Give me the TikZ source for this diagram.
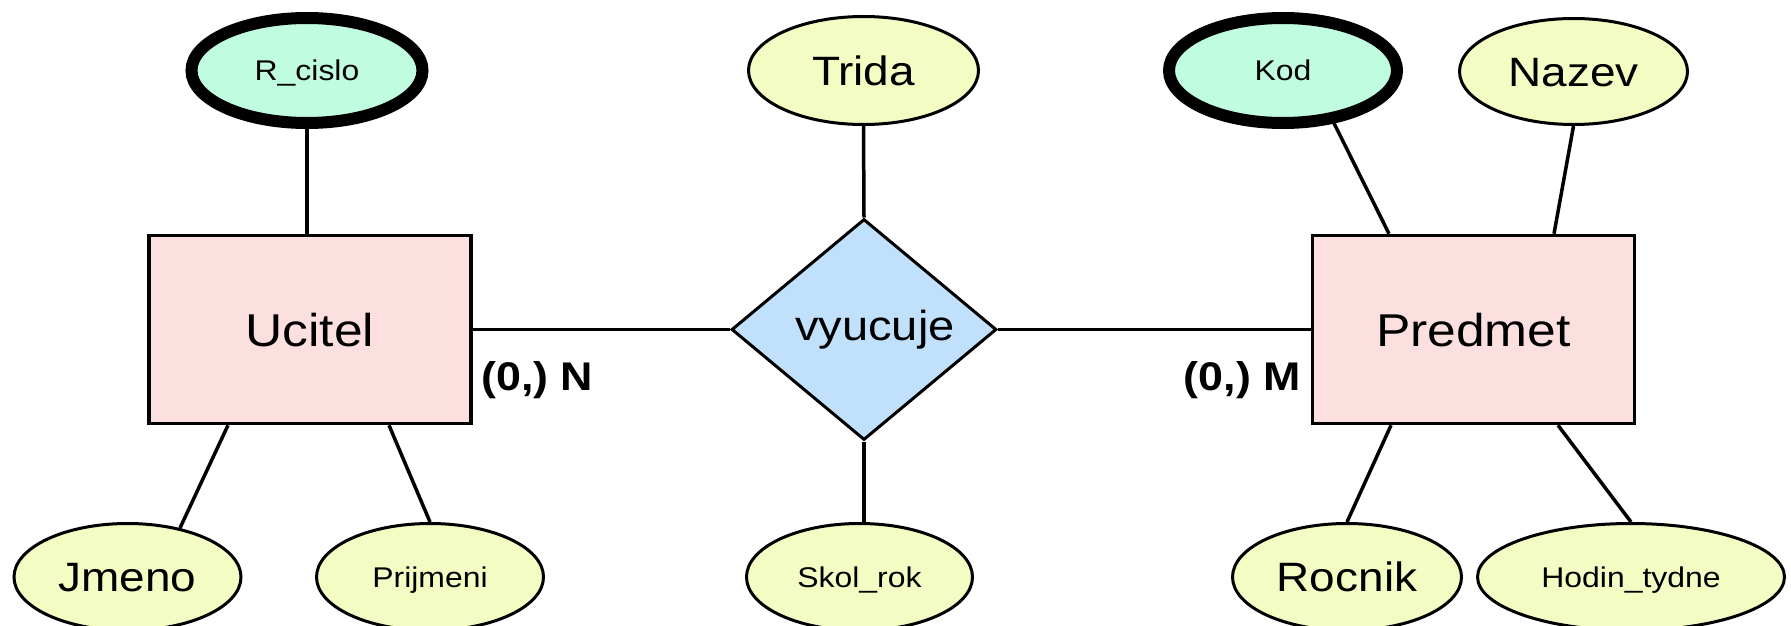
\documentclass[tikz,border=0pt]{standalone}
\usepackage{fontspec}
\setmainfont{Liberation Sans}[FakeStretch=1.12]
\usetikzlibrary{shapes.geometric}

\definecolor{entfill}{RGB}{252,224,224}
\definecolor{attrfill}{RGB}{243,252,194}
\definecolor{keyfill}{RGB}{192,252,224}
\definecolor{relfill}{RGB}{192,224,252}

\tikzset{
  entity/.style={draw, line width=3.5pt, fill=entfill, rectangle,
    minimum width=322pt, minimum height=188pt, inner sep=0pt,
    font=\fontsize{46}{50}\selectfont, text height=33pt, text depth=0pt},
  attr/.style={draw, line width=3pt, fill=attrfill, ellipse,
    inner sep=0pt, text depth=0pt},
  keyattr/.style={attr, line width=12pt, fill=keyfill},
  bigtext/.style={font=\fontsize{41}{45}\selectfont, text height=29.4pt},
  smalltext/.style={font=\fontsize{28.5}{32}\selectfont, text height=20.4pt},
  relation/.style={draw, diamond, line width=3pt, fill=relfill,
    minimum width=265pt, minimum height=221pt, inner sep=0pt,
    font=\fontsize{42}{46}\selectfont, text height=21.8pt, text depth=0pt},
  link/.style={line width=3.5pt},
  card/.style={inner sep=0pt, font=\bfseries\fontsize{40}{44}\selectfont,
    text height=28.6pt, text depth=0pt}
}

\begin{document}
\begin{tikzpicture}[x=1pt,y=-1pt]
  \useasboundingbox (0,0) rectangle (1791,626);

  % entities and the relationship
  \node[entity] (ucitel) at (310,329.5) {Ucitel};
  \node[entity] (predmet) at (1473.5,329.5) {Predmet};
  \node[relation] (vyucuje) at (864,329.5) {\hspace*{22pt}vyucuje};

  % key attributes
  \node[keyattr, smalltext, minimum width=231pt, minimum height=105pt]
    (rcislo) at (307,70.5) {R\_cislo};
  \node[keyattr, smalltext, minimum width=228pt, minimum height=105pt]
    (kod) at (1283,70.5) {Kod};

  % ordinary attributes
  \node[attr, bigtext, minimum width=230pt, minimum height=108pt]
    (trida) at (863.5,70.5) {Trida};
  \node[attr, bigtext, minimum width=228pt, minimum height=106pt]
    (nazev) at (1573.5,71.5) {Nazev};
  \node[attr, bigtext, minimum width=227pt, minimum height=107pt]
    (jmeno) at (127.5,577) {Jmeno};
  \node[attr, smalltext, minimum width=227pt, minimum height=107pt]
    (prijmeni) at (430,577) {Prijmeni};
  \node[attr, smalltext, minimum width=226pt, minimum height=107pt]
    (skolrok) at (859.5,577) {Skol\_rok};
  \node[attr, bigtext, minimum width=229pt, minimum height=107pt]
    (rocnik) at (1347,577) {Rocnik};
  \node[attr, smalltext, minimum width=307pt, minimum height=107pt]
    (hodin) at (1631,577) {Hodin\_tydne};

  % cardinalities
  \node[card, anchor=west] (cardn) at (481,376) {(0,) N};
  \node[card, anchor=east] (cardm) at (1301,376) {(0,) M};

  % relationship links
  \draw[link] (ucitel.east) -- (vyucuje.west);
  \draw[link] (vyucuje.east) -- (predmet.west);
  \draw[link] (trida.south) -- (vyucuje.north);
  \draw[link] (vyucuje.south) -- (vyucuje.south |- skolrok.north);

  % attribute links of Ucitel
  \draw[link] (rcislo.south) -- (rcislo.south |- ucitel.north);
  \draw[link] (jmeno.43) -- ([xshift=-82pt]ucitel.south);
  \draw[link] (prijmeni.north) -- ([xshift=79pt]ucitel.south);

  % attribute links of Predmet
  \draw[link] (kod.-46) -- ([xshift=-84.5pt]predmet.north);
  \draw[link] (nazev.south) -- ([xshift=80.5pt]predmet.north);
  \draw[link] (rocnik.north) -- ([xshift=-82.5pt]predmet.south);
  \draw[link] (hodin.north) -- ([xshift=84.5pt]predmet.south);
\end{tikzpicture}
\end{document}
